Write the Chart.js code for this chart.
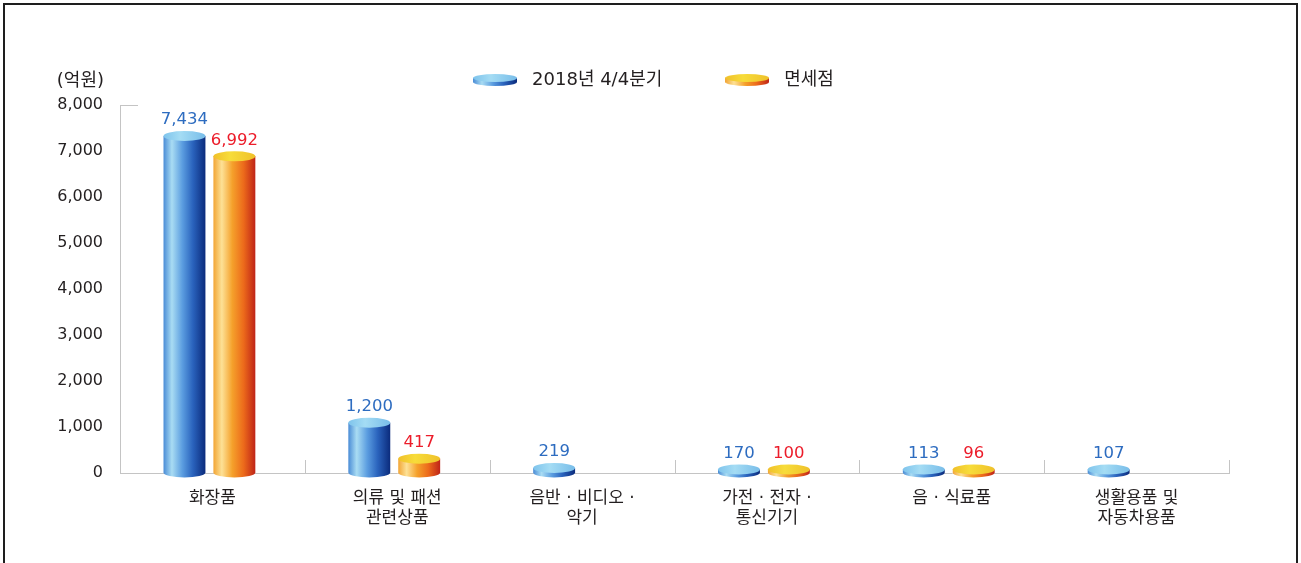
<!DOCTYPE html>
<html>
<head>
<meta charset="utf-8">
<script src="https://cdn.jsdelivr.net/npm/chart.js@4.4.1/dist/chart.umd.min.js"></script>
<style>
  html, body { margin: 0; padding: 0; background: #fff; overflow: hidden; }
  #frame { position: absolute; left: 3px; top: 3px; width: 1295px; height: 640px; box-sizing: border-box; border: 2px solid #1e1e1e; }
  #wrap { position: absolute; left: 0; top: 0; width: 1301px; height: 563px; }
</style>
</head>
<body>
<div id="frame"></div>
<div id="wrap"><canvas id="chart"></canvas></div>
<script>
// chart data
var categories = [
  ["화장품"],
  ["의류 및 패션", "관련상품"],
  ["음반 · 비디오 ·", "악기"],
  ["가전 · 전자 ·", "통신기기"],
  ["음 · 식료품"],
  ["생활용품 및", "자동차용품"]
];
var seriesNames = ["2018년 4/4분기", "면세점"];
var quarterValues = [7434, 1200, 219, 170, 113, 107];
var dutyFreeValues = [6992, 417, null, 100, 96, null];
var yMin = 0, yMax = 8000, yStep = 1000;
var unitLabel = "(억원)";

var numFont = "'DejaVu Sans', 'Noto Sans CJK KR', sans-serif";
var korFont = "'DejaVu Sans', 'Noto Sans CJK KR', sans-serif";

// colours of the two cylinder kinds
var looks = [
  {
    side: [[0, "#4a8cd6"], [0.2, "#a9dcf3"], [0.45, "#5b9de0"], [0.7, "#2a63bd"], [1, "#0b2b7c"]],
    cap: [[0, "#7fc4ec"], [0.4, "#a4dcf4"], [1, "#78bde9"]],
    text: "#2d6cc0"
  },
  {
    side: [[0, "#f2a535"], [0.2, "#fde196"], [0.45, "#f5a12b"], [0.72, "#ec6a1b"], [1, "#bf2418"]],
    cap: [[0, "#f0c02a"], [0.4, "#f7dc3a"], [1, "#efc12a"]],
    text: "#ec1c2a"
  }
];

function drawCylinder(ctx, x, top, base, w, ry, look) {
  var rx = w / 2;
  var cy = Math.min(top + ry, base - 3);
  var g = ctx.createLinearGradient(x - rx, 0, x + rx, 0);
  look.side.forEach(function(s) { g.addColorStop(s[0], s[1]); });
  ctx.fillStyle = g;
  ctx.beginPath();
  ctx.moveTo(x - rx, cy);
  ctx.lineTo(x - rx, base);
  ctx.ellipse(x, base, rx, ry, 0, Math.PI, 0, true);
  ctx.lineTo(x + rx, cy);
  ctx.closePath();
  ctx.fill();

  var c = ctx.createLinearGradient(x - rx, 0, x + rx, 0);
  look.cap.forEach(function(s) { c.addColorStop(s[0], s[1]); });
  ctx.fillStyle = c;
  ctx.beginPath();
  ctx.ellipse(x, cy, rx, ry, 0, 0, Math.PI * 2);
  ctx.fill();
  return cy - ry;
}

// small disks for the legend
var icons = looks.map(function(look) {
  var cv = document.createElement("canvas");
  cv.width = 44;
  cv.height = 14;
  drawCylinder(cv.getContext("2d"), 22, 1, 9, 44, 4, look);
  return cv;
});

var cylinders = {
  id: "cylinders",
  afterDatasetsDraw(chart) {
    var ctx = chart.ctx;
    chart.data.datasets.forEach(function(ds, i) {
      var meta = chart.getDatasetMeta(i);
      meta.data.forEach(function(bar, j) {
        if (ds.data[j] == null) return;
        var p = bar.getProps(["x", "y", "base", "width"], true);
        // groups sit a little left of the category centre in the original
        var x = p.x - 3;
        var capTop = drawCylinder(ctx, x, p.y, p.base, p.width, 5, looks[i]);
        ctx.save();
        ctx.font = "16.5px " + numFont;
        ctx.fillStyle = looks[i].text;
        ctx.textAlign = "center";
        ctx.textBaseline = "middle";
        ctx.fillText(ds.data[j].toLocaleString("en-US"), x, capTop - 11);
        ctx.restore();
      });
    });
  }
};

var decorations = {
  id: "decorations",
  afterDraw(chart) {
    var ctx = chart.ctx;
    var area = chart.chartArea;
    var n = categories.length;
    var cw = (area.right - area.left) / n;
    ctx.save();
    ctx.strokeStyle = "#c4c4c4";
    ctx.lineWidth = 1;
    ctx.beginPath();
    for (var i = 1; i <= n; i++) {
      var x = Math.round(area.left + i * cw) + 0.5;
      ctx.moveTo(x, area.bottom - 13);
      ctx.lineTo(x, area.bottom);
    }
    ctx.moveTo(area.left, area.top + 0.5);
    ctx.lineTo(area.left + 18, area.top + 0.5);
    ctx.stroke();

    ctx.font = "18px " + korFont;
    ctx.fillStyle = "#231f20";
    ctx.textAlign = "right";
    ctx.textBaseline = "middle";
    ctx.fillText(unitLabel, area.left - 16, 81);
    ctx.restore();
  }
};

// legend box: fixed height, centred over the whole canvas
var legendBox = {
  id: "legendBox",
  beforeInit(chart) {
    var fit = chart.legend.fit;
    chart.legend.fit = function() {
      fit.call(this);
      this.height = 91;
    };
  },
  afterLayout(chart) {
    chart.legend.left = 0;
    chart.legend.right = chart.width;
    chart.legend.width = chart.width;
  }
};

new Chart(document.getElementById("chart"), {
  type: "bar",
  data: {
    labels: categories,
    datasets: [
      { label: seriesNames[0], data: quarterValues, backgroundColor: "rgba(0,0,0,0)" },
      { label: seriesNames[1], data: dutyFreeValues, backgroundColor: "rgba(0,0,0,0)" }
    ]
  },
  options: {
    responsive: true,
    maintainAspectRatio: false,
    animation: false,
    events: [],
    categoryPercentage: 0.54,
    barPercentage: 0.84,
    layout: { padding: { top: 14, right: 72, bottom: 0, left: 0 } },
    plugins: {
      tooltip: { enabled: false },
      legend: {
        position: "top",
        labels: {
          usePointStyle: true,
          pointStyleWidth: 56,
          padding: 57,
          color: "#231f20",
          font: { family: korFont, size: 18 },
          generateLabels: function(chart) {
            return chart.data.datasets.map(function(ds, i) {
              return {
                text: ds.label,
                pointStyle: icons[i],
                fillStyle: "rgba(0,0,0,0)",
                strokeStyle: "rgba(0,0,0,0)",
                lineWidth: 0,
                fontColor: "#231f20",
                hidden: false,
                datasetIndex: i
              };
            });
          }
        }
      }
    },
    scales: {
      x: {
        grid: { display: true, drawOnChartArea: false, drawTicks: false },
        border: { display: true, color: "#c4c4c4" },
        ticks: {
          padding: 16,
          color: "#231f20",
          font: { family: korFont, size: 17, lineHeight: "20px" },
          maxRotation: 0,
          autoSkip: false
        },
        afterFit: function(scale) { scale.height = 90; }
      },
      y: {
        min: yMin,
        max: yMax,
        grid: { display: true, drawOnChartArea: false, drawTicks: false },
        border: { display: true, color: "#c4c4c4" },
        ticks: {
          stepSize: yStep,
          padding: 17,
          color: "#231f20",
          font: { family: numFont, size: 16 },
          callback: function(v) { return v.toLocaleString("en-US"); }
        },
        afterFit: function(scale) { scale.width = 120; }
      }
    }
  },
  plugins: [legendBox, cylinders, decorations]
});
</script>
</body>
</html>
